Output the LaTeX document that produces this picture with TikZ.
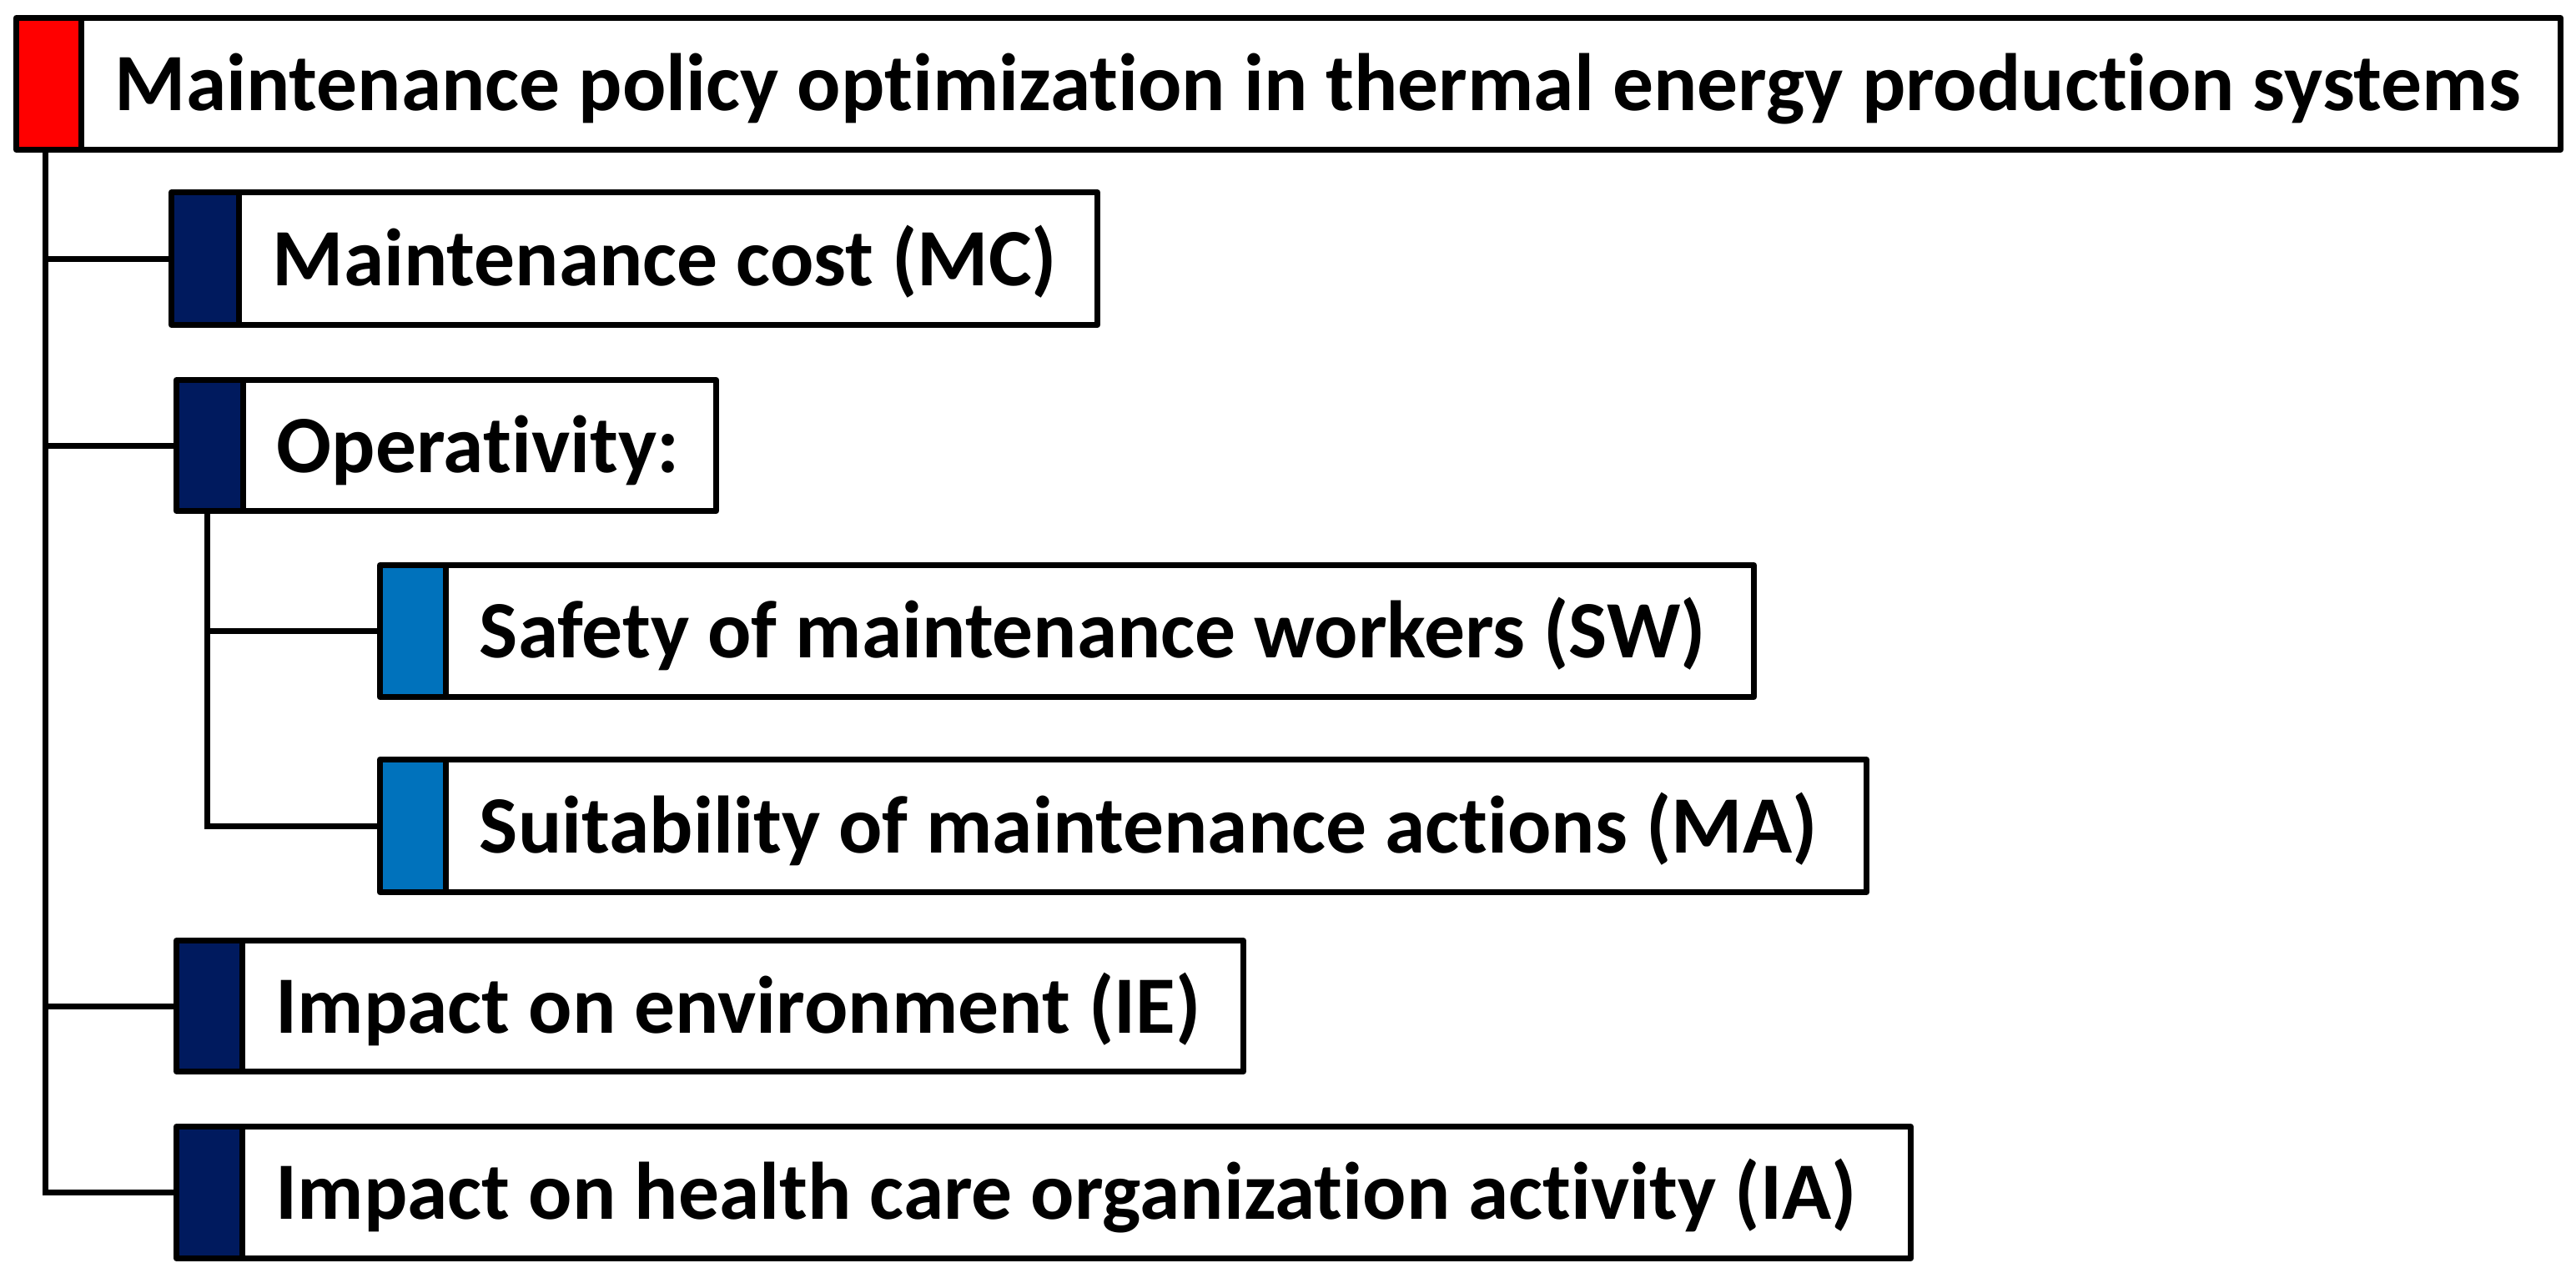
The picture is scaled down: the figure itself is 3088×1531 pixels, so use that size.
\documentclass[tikz,border=0pt]{standalone}
\usepackage{fontspec}
\setmainfont{Carlito}[Ligatures={NoCommon}]
\definecolor{rootred}{HTML}{FF0000}
\definecolor{navy}{HTML}{001A5E}
\definecolor{lightblue}{HTML}{0072BC}
\tikzset{
  critnode/.style={draw=black, line width=3.5pt, rectangle, inner sep=0pt, line join=round, fill=white},
  critline/.style={draw=black, line width=3.5pt},
  critlabel/.style={inner sep=0pt, font=\fontsize{48.8pt}{58pt}\selectfont\bfseries, text=black},
  conn/.style={draw=black, line width=3.5pt},
}
% #1 name, #2 L, #3 T, #4 R, #5 B (outer px), #6 separator centre px, #7 colour, #8 text
\newcommand\critbox[8]{%
  \pgfmathsetmacro\cbw{(#4-#2-7)*0.5}%
  \pgfmathsetmacro\cbh{(#5-#3-7)*0.5}%
  \pgfmathsetmacro\cbt{(#6-#2-3.5)*0.5}%
  \pgfmathsetmacro\cbx{(#6-#2-3.5+44)*0.5}%
  \pgfmathsetmacro\cbcx{(#2+#4)/2}%
  \pgfmathsetmacro\cbcy{(#3+#5)/2}%
  \node[critnode, minimum width=\cbw pt, minimum height=\cbh pt,
    path picture={\fill[#7] (path picture bounding box.north west) rectangle ++(\cbt pt,-\cbh pt);
      \draw[critline] ([xshift=\cbt pt]path picture bounding box.north west) -- ++(0,-\cbh pt);}]
    (#1) at (\cbcx,\cbcy) {};
  \node[critlabel, anchor=base west] (#1-t) at ([xshift=\cbx pt, yshift=-16pt]#1.west) {#8};
}
\begin{document}
\begin{tikzpicture}[x=0.5pt,y=-0.5pt]
\useasboundingbox[fill=white] (0,0) rectangle (3088,1531);
\critbox{root}{16}{18}{3073}{183}{97}{rootred}{Maintenance policy optimization in thermal energy production systems}
\critbox{mc}{202}{227}{1319}{393}{286}{navy}{Maintenance cost (MC)}
\critbox{op}{208}{452}{862}{616}{291}{navy}{Operativity:}
\critbox{sw}{452}{674}{2106}{839}{534}{lightblue}{Safety of maintenance workers (SW)}
\critbox{ma}{452}{907}{2241}{1073}{534}{lightblue}{Suitability of maintenance actions (MA)}
\critbox{ie}{208}{1124}{1494}{1288}{290}{navy}{Impact on environment (IE)}
\critbox{ia}{208}{1347}{2294}{1512}{290}{navy}{Impact on health care organization activity (IA)}
\coordinate (trunk) at ([xshift=19.25pt]root.south west);
\coordinate (subtrunk) at ([xshift=20.25pt]op.south west);
\draw[conn] (trunk) |- (ia.west);
\draw[conn] (mc.west) -- (mc.west -| trunk);
\draw[conn] (op.west) -- (op.west -| trunk);
\draw[conn] (ie.west) -- (ie.west -| trunk);
\draw[conn] (subtrunk) |- (ma.west);
\draw[conn] (sw.west) -- (sw.west -| subtrunk);
\end{tikzpicture}
\end{document}
